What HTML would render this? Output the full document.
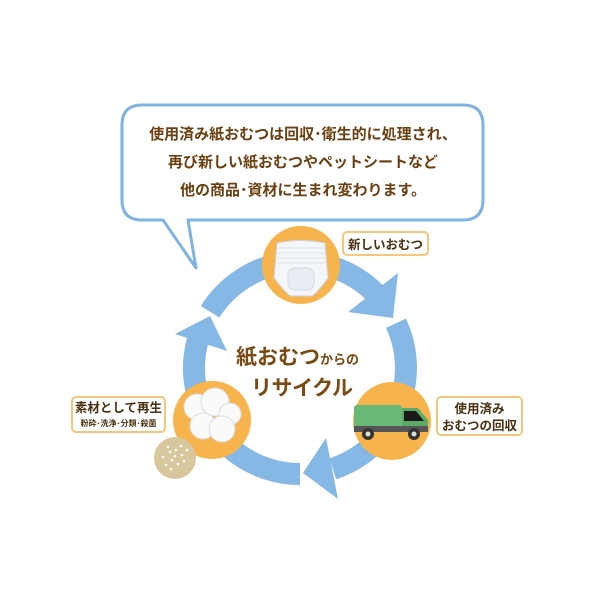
<!DOCTYPE html>
<html><head><meta charset="utf-8"><style>
body{margin:0;background:#fff;width:600px;height:600px;overflow:hidden;font-family:"Liberation Sans","Noto Sans CJK JP",sans-serif}
</style></head><body>
<svg width="600" height="600" xmlns="http://www.w3.org/2000/svg" font-family="'Liberation Sans','Noto Sans CJK JP',sans-serif">
<!-- bubble -->
<path d="M142,105 H463 Q483,105 483,125 V200 Q483,220 463,220 H188 L196,268 L163,220 H142 Q122,220 122,200 V125 Q122,105 142,105 Z" fill="#fff" stroke="#7fb3e0" stroke-width="3" stroke-linejoin="round"/>
<g fill="#6b3f10" font-size="15" font-weight="bold" text-anchor="middle">
<text x="303" y="139">使用済み紙おむつは回収･衛生的に処理され、</text>
<text x="303" y="167">再び新しい紙おむつやペットシートなど</text>
<text x="303" y="195">他の商品･資材に生まれ変わります。</text>
</g>
<!-- ring arcs -->
<g fill="none" stroke="#85b8e4" stroke-width="22">
<path d="M210.1,311.8 A106,106 0 0 1 376.2,294.3"/>
<path d="M396,323.2 A106,106 0 0 1 332.8,468.8"/>
<path d="M300,474 A106,106 0 0 1 197.6,340.6"/>
</g>
<g fill="#85b8e4">
<polygon points="398,273 348,312 393,318"/>
<polygon points="326,438 303,473 338,499"/>
<polygon points="175,334 210,316 227,351"/>
</g>
<!-- circles -->
<circle cx="301" cy="265" r="39" fill="#f7b44c"/>
<circle cx="392" cy="421" r="39" fill="#f7b44c"/>
<circle cx="212" cy="420" r="39" fill="#f7b44c"/>
<circle cx="175" cy="458" r="21" fill="#d8c79c"/>
<g fill="#fff">
<circle cx="170" cy="452" r="1.3"/><circle cx="176" cy="450" r="1.3"/><circle cx="182" cy="455" r="1.3"/><circle cx="172" cy="460" r="1.3"/><circle cx="178" cy="464" r="1.3"/><circle cx="166" cy="465" r="1.3"/><circle cx="184" cy="461" r="1.3"/><circle cx="175" cy="456" r="1.3"/><circle cx="168" cy="447" r="1.3"/><circle cx="181" cy="446" r="1.3"/><circle cx="163" cy="457" r="1.3"/><circle cx="187" cy="450" r="1.3"/><circle cx="171" cy="469" r="1.3"/>
</g>
<!-- diaper -->
<path d="M277,243 Q301,238 325,243 L328,278 Q318,292 312,296 L290,296 Q283,290 274,278 Z" fill="#f4f6fa" stroke="#c9d2dd" stroke-width="1"/>
<g stroke="#dde3ea" stroke-width="1"><line x1="278" y1="248" x2="325" y2="248"/><line x1="278" y1="253" x2="325" y2="253"/><line x1="278" y1="258" x2="326" y2="258"/><line x1="278" y1="263" x2="326" y2="263"/></g>
<rect x="288" y="268" width="26" height="22" rx="7" fill="#e9edf3" stroke="#d5dbe3"/>
<!-- cotton -->
<g fill="#fafafa" stroke="#dcdcdc"><circle cx="197" cy="407" r="13"/><circle cx="215" cy="402" r="14"/><circle cx="230" cy="414" r="11"/><circle cx="203" cy="426" r="13"/><circle cx="222" cy="429" r="13"/></g>
<!-- truck -->
<rect x="354" y="405" width="48" height="27" rx="3" fill="#6bb876"/>
<path d="M402,408 H418 L428,420 V432 H402 Z" fill="#5daa68"/>
<path d="M404,411 H416 L424,421 H404 Z" fill="#1a1a1a"/>
<rect x="354" y="426" width="74" height="6" fill="#555"/>
<circle cx="368" cy="434" r="6" fill="#333"/><circle cx="368" cy="434" r="2.5" fill="#ddd"/>
<circle cx="414" cy="434" r="6" fill="#333"/><circle cx="414" cy="434" r="2.5" fill="#ddd"/>
<!-- center text -->
<g fill="#7a4a12" font-weight="bold">
<text x="236" y="364" font-size="21">紙おむつ<tspan font-size="13">からの</tspan></text>
<text x="251" y="395" font-size="21" letter-spacing="-0.5">リサイクル</text>
</g>
<!-- labels -->
<rect x="343" y="232" width="85" height="23" rx="4" fill="#fff" stroke="#f5c77a" stroke-width="2"/>
<text x="385.5" y="249" font-size="12.5" font-weight="bold" fill="#4a3010" text-anchor="middle">新しいおむつ</text>
<rect x="437" y="397" width="85" height="38" rx="4" fill="#fff" stroke="#f5c77a" stroke-width="2"/>
<g font-size="12.5" font-weight="bold" fill="#4a3010" text-anchor="middle">
<text x="479.5" y="413">使用済み</text><text x="479.5" y="430">おむつの回収</text></g>
<rect x="72" y="397" width="93" height="35" rx="4" fill="#fff" stroke="#f5c77a" stroke-width="2"/>
<text x="118.5" y="412" font-size="12.5" font-weight="bold" fill="#4a3010" text-anchor="middle">素材として再生</text>
<text x="118.5" y="426" font-size="8" font-weight="bold" fill="#4a3010" text-anchor="middle">粉砕･洗浄･分類･殺菌</text>
</svg>
</body></html>
